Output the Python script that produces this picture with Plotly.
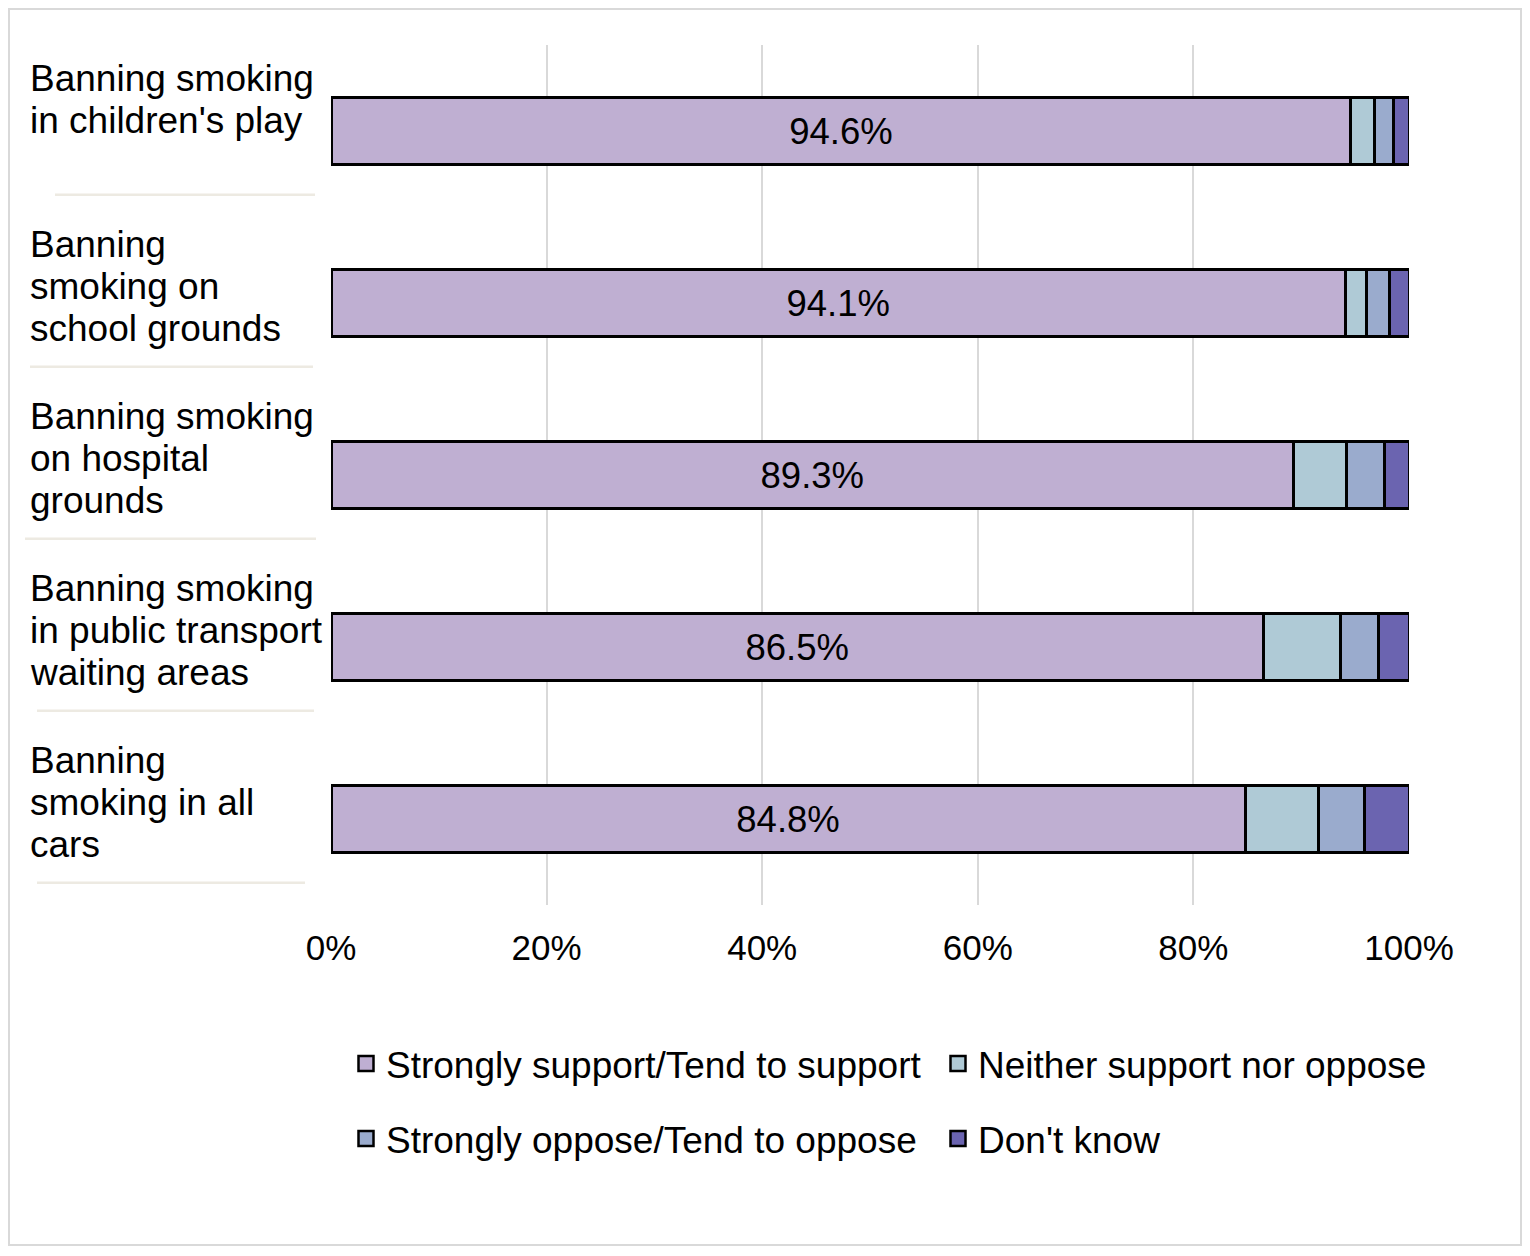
import plotly.graph_objects as go

categories = [
    "Banning smoking<br>in children's play",
    "Banning<br>smoking on<br>school grounds",
    "Banning smoking<br>on hospital<br>grounds",
    "Banning smoking<br>in public transport<br>waiting areas",
    "Banning<br>smoking in all<br>cars",
]
cat_keys = ["play", "school", "hospital", "transport", "cars"]

support = [94.6, 94.1, 89.3, 86.5, 84.8]
neither = [2.2, 2.0, 4.9, 7.1, 6.8]
oppose = [1.8, 2.1, 3.5, 3.6, 4.3]
dont_know = [1.4, 1.8, 2.3, 2.8, 4.1]

series_names = [
    "Strongly support/Tend to support",
    "Neither support nor oppose",
    "Strongly oppose/Tend to oppose",
    "Don't know",
]
tick_vals = [0, 20, 40, 60, 80, 100]
tick_text = ["0%", "20%", "40%", "60%", "80%", "100%"]

colors = ["#BFAFD2", "#AFCAD6", "#9AABCD", "#6B64B0"]
FONT = "Liberation Sans, Arial, sans-serif"

OFF = 8  # page body margin
W, H = 1522, 1240
L = 331 - OFF
T = 45 - OFF
R = W - (1409 - OFF)
B = H - (905 - OFF)
PW, PH = W - L - R, H - T - B

def px_x(px):
    return (px - OFF - L) / PW

def px_y(py):
    return 1 - (py - OFF - T) / PH

fig = go.Figure()
all_vals = [support, neither, oppose, dont_know]
legend_ids = ["legend", "legend2", "legend3", "legend4"]
for i, (name, vals) in enumerate(zip(series_names, all_vals)):
    fig.add_trace(go.Bar(
        y=cat_keys, x=vals, orientation="h", name=name,
        marker=dict(color=colors[i], line=dict(color="black", width=3)),
        width=0.395,
        text=[f"{v:.1f}%" for v in vals] if i == 0 else None,
        textposition="inside" if i == 0 else "none",
        insidetextanchor="middle",
        textfont=dict(family=FONT, size=36.5, color="black"),
        showlegend=False,
        hoverinfo="x+name",
    ))
# legend entries (square swatches)
for i, name in enumerate(series_names):
    fig.add_trace(go.Scatter(
        x=[None], y=[None], mode="markers", name=name,
        marker=dict(symbol="square", size=15, color=colors[i],
                    line=dict(color="black", width=2.5)),
        legend=legend_ids[i], showlegend=True, hoverinfo="skip",
    ))

annotations = []
LINE_GAP = 42
FIRST_LINE = -59
for key, lab in zip(cat_keys, categories):
    lines = lab.split("<br>")
    first = FIRST_LINE + (6 if len(lines) == 2 else 0)
    for j, line in enumerate(lines):
        annotations.append(dict(
            x=px_x(28), xref="paper", xanchor="left",
            y=key, yref="y", yanchor="middle",
            yshift=-(first + j * LINE_GAP),
            text=line, align="left", showarrow=False,
            font=dict(family=FONT, size=37, color="black"),
        ))

shapes = []
sep_lines = [(55, 315), (30, 313), (25, 316), (37, 314), (37, 305)]
for k, (xa, xb) in enumerate(sep_lines):
    yv = k + 0.5 - 0.13
    shapes.append(dict(type="line", xref="paper", yref="y",
                       x0=px_x(xa), x1=px_x(xb), y0=yv, y1=yv,
                       line=dict(color="#EDEAE2", width=2.5), layer="below"))
shapes.append(dict(type="rect", xref="paper", yref="paper",
                   x0=px_x(9), x1=px_x(1521), y0=px_y(1245), y1=px_y(9),
                   line=dict(color="#D9D9D9", width=2), fillcolor="rgba(0,0,0,0)",
                   layer="below"))

legend_pos = [(346, 1064), (938, 1064), (346, 1139), (938, 1139)]
legend_layout = {}
for lid, (lx, ly) in zip(legend_ids, legend_pos):
    legend_layout[lid] = dict(
        orientation="h", x=px_x(lx), xanchor="left",
        y=px_y(ly), yanchor="middle",
        font=dict(family=FONT, size=37, color="black"),
        bgcolor="rgba(0,0,0,0)",
    )

fig.update_layout(
    width=W, height=H,
    margin=dict(l=L, r=R, t=T, b=B),
    paper_bgcolor="white", plot_bgcolor="white",
    barmode="stack",
    font=dict(family=FONT, size=35, color="black"),
    xaxis=dict(range=[0, 100], tickvals=tick_vals, ticktext=tick_text,
               showgrid=True, gridcolor="#D9D9D9", gridwidth=2,
               zeroline=False, showline=False, ticks="",
               ticklabelstandoff=19,
               tickfont=dict(family=FONT, size=35, color="black"), fixedrange=True),
    yaxis=dict(categoryorder="array", categoryarray=cat_keys,
               range=[4.5, -0.5], showticklabels=False, showgrid=False,
               zeroline=False, showline=False, fixedrange=True),
    annotations=annotations,
    shapes=shapes,
    showlegend=True,
    **legend_layout,
)

fig.write_html("out.html")
